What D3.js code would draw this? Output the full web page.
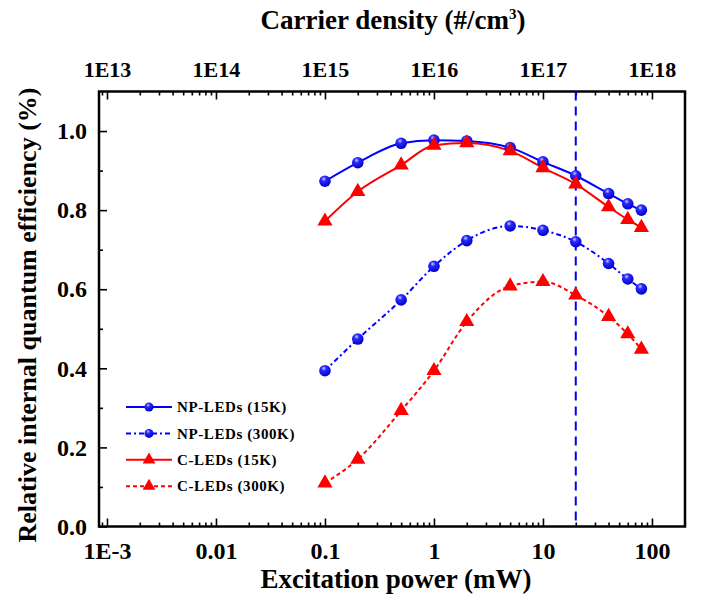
<!DOCTYPE html>
<html>
<head>
<meta charset="utf-8">
<script src="https://cdn.jsdelivr.net/npm/d3@7"></script>
<style>
  body { margin: 0; background: #fff; }
  svg text { font-family: "Liberation Serif", "Times New Roman", serif; font-weight: bold; }
</style>
</head>
<body>
<div id="chart"></div>
<script>
// excitation power (mW) for every series
var power = [0.1, 0.2, 0.5, 1, 2, 5, 10, 20, 40, 60, 80];

// relative IQE
var npLow  = [0.873, 0.920, 0.969, 0.977, 0.975, 0.958, 0.922, 0.887, 0.842, 0.816, 0.800];
var npRoom = [0.394, 0.474, 0.573, 0.658, 0.723, 0.760, 0.749, 0.720, 0.665, 0.626, 0.601];
var cLow   = [0.772, 0.847, 0.914, 0.964, 0.970, 0.950, 0.907, 0.866, 0.808, 0.776, 0.756];
var cRoom  = [0.110, 0.170, 0.293, 0.394, 0.518, 0.608, 0.619, 0.585, 0.531, 0.487, 0.448];

var seriesNames = ["NP-LEDs (15K)", "NP-LEDs (300K)", "C-LEDs (15K)", "C-LEDs (300K)"];

var xTicks = [1e-3, 0.01, 0.1, 1, 10, 100];
var xTickLabels = ["1E-3", "0.01", "0.1", "1", "10", "100"];
var topTicks = [1e13, 1e14, 1e15, 1e16, 1e17, 1e18];
var topTickLabels = ["1E13", "1E14", "1E15", "1E16", "1E17", "1E18"];
var yTicks = [0, 0.2, 0.4, 0.6, 0.8, 1.0];
var yMinorTicks = [0.1, 0.3, 0.5, 0.7, 0.9];
var markerPower = 20;   // vertical dashed line

// ------------------------------------------------------------------
var W = 701, H = 599;
var margin = {top: 91.5, right: 16, bottom: 72.5, left: 99};
var width = W - margin.left - margin.right,
    height = H - margin.top - margin.bottom;

var svg = d3.select("#chart").append("svg")
    .attr("width", W)
    .attr("height", H);

// sphere look for the round markers
var grad = svg.append("defs").append("radialGradient")
    .attr("id", "sphere")
    .attr("cx", "40%").attr("cy", "30%").attr("r", "70%");
grad.append("stop").attr("offset", "0%").attr("stop-color", "#c8ccff");
grad.append("stop").attr("offset", "30%").attr("stop-color", "#2a2aff");
grad.append("stop").attr("offset", "100%").attr("stop-color", "#0000c8");

var g = svg.append("g")
    .attr("transform", "translate(" + margin.left + "," + margin.top + ")");

var x = d3.scaleLog().domain([0.000845, 201]).range([0, width]);
var xTop = d3.scaleLog().domain([0.000845e16, 201e16]).range([0, width]);
var y = d3.scaleLinear().domain([0, 1.1]).range([height, 0]);

// minor ticks for log axes (2..9 in each decade)
function minors(lo, hi) {
  var out = [];
  for (var e = lo; e < hi; e++)
    for (var m = 2; m <= 9; m++) out.push(m * Math.pow(10, e));
  return out;
}

// bottom axis
g.append("g").attr("transform", "translate(0," + height + ")")
    .call(d3.axisBottom(x).tickValues(minors(-4, 3).filter(function(v){ return x(v) >= 0 && x(v) <= width; }))
      .tickSize(-4).tickFormat(""));
g.append("g").attr("class", "major").attr("transform", "translate(0," + height + ")")
    .call(d3.axisBottom(x).tickValues(xTicks).tickSize(-8).tickPadding(15)
      .tickFormat(function(d, i){ return xTickLabels[i]; }))
    .selectAll("text").style("font-size", "24px");

// top axis
g.append("g")
    .call(d3.axisTop(xTop).tickValues(minors(12, 19).filter(function(v){ return xTop(v) >= 0 && xTop(v) <= width; }))
      .tickSize(-4).tickFormat(""));
g.append("g").attr("class", "major")
    .call(d3.axisTop(xTop).tickValues(topTicks).tickSize(-8).tickPadding(15)
      .tickFormat(function(d, i){ return topTickLabels[i]; }))
    .selectAll("text").style("font-size", "22px");

// left axis
g.append("g")
    .call(d3.axisLeft(y).tickValues(yMinorTicks).tickSize(-4).tickFormat(""));
g.append("g").attr("class", "major")
    .call(d3.axisLeft(y).tickValues(yTicks).tickSize(-8).tickPadding(12).tickFormat(d3.format(".1f")))
    .selectAll("text").style("font-size", "24px");

g.selectAll(".domain").remove();
g.selectAll(".tick line").attr("stroke", "#000").attr("stroke-width", 1.6);
g.selectAll(".tick text").attr("fill", "#000");

// frame
g.append("rect")
    .attr("width", width).attr("height", height)
    .attr("fill", "none").attr("stroke", "#000").attr("stroke-width", 2.5);

// dashed marker line
g.append("line")
    .attr("x1", x(markerPower)).attr("x2", x(markerPower))
    .attr("y1", 0).attr("y2", height)
    .attr("stroke", "#0000ee").attr("stroke-width", 2)
    .attr("stroke-dasharray", "9,6");

// series
var series = [
  {name: seriesNames[0], values: npLow,  color: "#0000ff", dash: null,      shape: "circle"},
  {name: seriesNames[1], values: npRoom, color: "#0000ff", dash: "5,3,2,3", shape: "circle"},
  {name: seriesNames[2], values: cLow,   color: "#ff0000", dash: null,      shape: "triangle"},
  {name: seriesNames[3], values: cRoom,  color: "#ff0000", dash: "4,3",     shape: "triangle"}
];

var line = d3.line()
    .x(function(d){ return x(d[0]); })
    .y(function(d){ return y(d[1]); })
    .curve(d3.curveMonotoneX);

var tri = d3.symbol().type(d3.symbolTriangle).size(100);

function drawMarker(sel, s) {
  if (s.shape === "circle") {
    sel.append("circle").attr("r", 5.8).attr("fill", "url(#sphere)");
  } else {
    sel.append("path").attr("d", tri).attr("fill", s.color);
  }
}

series.forEach(function(s) {
  var pts = power.map(function(p, i){ return [p, s.values[i]]; });
  g.append("path")
      .datum(pts)
      .attr("d", line)
      .attr("fill", "none")
      .attr("stroke", s.color)
      .attr("stroke-width", 2)
      .attr("stroke-dasharray", s.dash);
});

series.forEach(function(s) {
  var pts = power.map(function(p, i){ return [p, s.values[i]]; });
  g.selectAll(null)
      .data(pts)
      .enter().append("g")
      .attr("transform", function(d){ return "translate(" + x(d[0]) + "," + y(d[1]) + ")"; })
      .each(function(){ drawMarker(d3.select(this), s); });
});

// legend
var legend = svg.append("g").attr("transform", "translate(126,407)");
series.forEach(function(s, i) {
  var row = legend.append("g").attr("transform", "translate(0," + (i * 26.4) + ")");
  row.append("line")
      .attr("x1", 0).attr("x2", 46)
      .attr("stroke", s.color).attr("stroke-width", 2)
      .attr("stroke-dasharray", s.dash);
  var m = row.append("g").attr("transform", "translate(23,0)");
  if (s.shape === "circle") m.append("circle").attr("r", 4.5).attr("fill", "url(#sphere)");
  else m.append("path").attr("d", d3.symbol().type(d3.symbolTriangle).size(70)).attr("fill", s.color);
  row.append("text")
      .attr("x", 51).attr("dy", "0.35em")
      .style("font-size", "15px")
      .style("letter-spacing", "0.6px")
      .text(s.name);
});

// axis titles
svg.append("text")
    .attr("x", margin.left + width / 2 + 4).attr("y", 588)
    .attr("text-anchor", "middle")
    .style("font-size", "27px")
    .text("Excitation power (mW)");

var topTitle = svg.append("text")
    .attr("x", margin.left + width / 2 + 1).attr("y", 29)
    .attr("text-anchor", "middle")
    .style("font-size", "27px")
    .text("Carrier density (#/cm");
topTitle.append("tspan").attr("dy", -10).style("font-size", "15px").text("3");
topTitle.append("tspan").attr("dy", 10).text(")");

svg.append("text")
    .attr("transform", "translate(36," + (margin.top + height / 2 + 6) + ") rotate(-90)")
    .attr("text-anchor", "middle")
    .style("font-size", "26px")
    .text("Relative internal quantum efficiency (%)");
</script>
</body>
</html>
